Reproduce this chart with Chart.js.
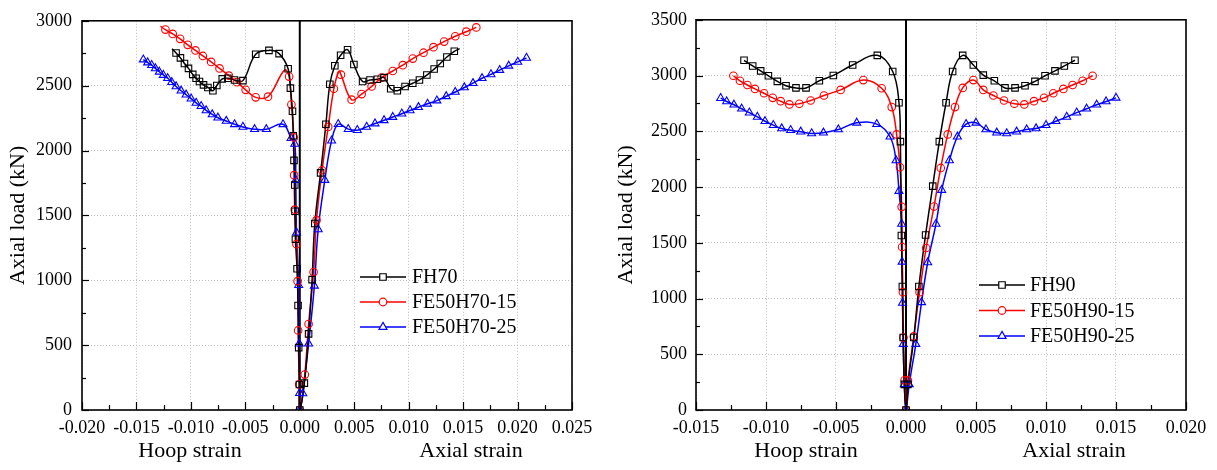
<!DOCTYPE html>
<html>
<head>
<meta charset="utf-8">
<title>Axial load – strain curves</title>
<script src="https://cdn.jsdelivr.net/npm/chart.js"></script>
<style>
  html, body { margin: 0; padding: 0; background: #fff; }
  #wrap { position: relative; width: 1217px; height: 470px; overflow: hidden; }
  .panel { position: absolute; top: 0; height: 470px; }
  #left { left: 0; width: 609px; }
  #right { left: 609px; width: 608px; }
</style>
</head>
<body>
<div id="wrap">
  <div class="panel" id="left"><canvas id="c1" width="609" height="470"></canvas></div>
  <div class="panel" id="right"><canvas id="c2" width="608" height="470"></canvas></div>
</div>
<script>
// ---- Axis ticks --------------------------------------------------------
const leftXTicks  = [-0.020, -0.015, -0.010, -0.005, 0, 0.005, 0.010, 0.015, 0.020, 0.025];
const leftYTicks  = [0, 500, 1000, 1500, 2000, 2500, 3000];
const rightXTicks = [-0.015, -0.010, -0.005, 0, 0.005, 0.010, 0.015, 0.020];
const rightYTicks = [0, 500, 1000, 1500, 2000, 2500, 3000, 3500];

// ---- Series labels ------------------------------------------------------
const leftLabels  = ['FH70', 'FE50H70-15', 'FE50H70-25'];
const rightLabels = ['FH90', 'FE50H90-15', 'FE50H90-25'];

// ---- Measured points [strain, load kN]: hoop branch (negative) then axial branch
const fh70 = [
  [-0.01136,2752],[-0.01096,2714],[-0.01059,2671],[-0.01022,2633],[-0.00983,2587],[-0.00952,2557],
  [-0.00921,2532],[-0.00884,2506],[-0.00844,2486],[-0.00798,2461],[-0.00762,2501],[-0.00712,2552],
  [-0.0066,2557],[-0.00599,2544],[-0.00522,2539],[-0.00405,2742],[-0.00283,2772],[-0.0019,2747],
  [-0.00107,2630],[-0.00086,2481],[-0.00067,2303],[-0.0006,2114],[-0.00053,1924],[-0.00046,1734],
  [-0.00044,1532],[-0.0004,1316],[-0.00025,1089],[-0.00016,805],[-0.0001,481],[-0.00003,197],[0,0],
  [0.00042,207],[0.00081,587],[0.00113,1005],[0.00138,1438],[0.00191,1828],[0.0024,2203],
  [0.00276,2511],[0.00322,2653],[0.00375,2734],[0.00439,2777],[0.00497,2663],[0.00577,2532],
  [0.00645,2544],[0.00712,2549],[0.00774,2562],[0.00835,2476],[0.00896,2461],[0.00967,2494],
  [0.01038,2519],[0.01099,2544],[0.01167,2582],[0.01234,2628],[0.0129,2671],[0.01351,2721],[0.01419,2765]
];
const fh70Bends = [[-0.01173,2785],[0.01468,2785]];

const fe50h70_15 = [
  [-0.01234,2932],[-0.01167,2899],[-0.01099,2861],[-0.01029,2815],[-0.00958,2772],[-0.0089,2729],
  [-0.00814,2683],[-0.00737,2633],[-0.00651,2577],[-0.00577,2527],[-0.00497,2468],[-0.00405,2410],
  [-0.00292,2415],[-0.00098,2570],[-0.00077,2354],[-0.00055,2101],[-0.00052,1810],[-0.00046,1544],
  [-0.0003,1278],[-0.0002,993],[-0.00015,613],[-0.00005,197],[0,0],
  [0.00046,273],[0.00081,663],[0.00127,1063],[0.00154,1463],[0.00205,1848],[0.00261,2182],
  [0.00313,2476],[0.00378,2585],[0.00476,2392],[0.00568,2435],[0.0066,2494],[0.00752,2562],
  [0.00854,2613],[0.00946,2658],[0.01038,2709],[0.01136,2754],[0.01228,2797],[0.01326,2840],
  [0.01428,2881],[0.01529,2916],[0.01621,2949]
];
const fe50h70_15Bends = [[-0.0128,2958],[-0.0014,2620],[0.0036,2612]];

const fe50h70_25 = [
  [-0.01437,2701],[-0.01397,2678],[-0.0136,2658],[-0.01326,2633],[-0.0129,2607],[-0.01253,2582],
  [-0.01213,2557],[-0.01176,2527],[-0.01136,2494],[-0.0109,2461],[-0.01044,2430],[-0.00998,2400],
  [-0.00952,2367],[-0.00906,2342],[-0.0086,2309],[-0.00804,2278],[-0.00752,2253],[-0.00675,2228],
  [-0.00599,2202],[-0.00522,2182],[-0.00415,2164],[-0.00307,2164],[-0.00154,2202],[-0.0008,2095],
  [-0.00046,2051],[-0.00037,1772],[-0.0003,1367],[-0.0001,962],[-0.00005,511],[-0.00002,130],[0,0],
  [0.00028,127],[0.00081,511],[0.00134,957],[0.00169,1392],[0.0023,1772],[0.00292,2076],
  [0.00353,2203],[0.00445,2165],[0.00528,2157],[0.00614,2182],[0.00691,2208],[0.00774,2233],
  [0.00854,2258],[0.00937,2284],[0.01013,2309],[0.0109,2334],[0.01173,2360],[0.01259,2385],
  [0.01345,2418],[0.01428,2451],[0.01511,2486],[0.01591,2519],[0.01674,2557],[0.01756,2587],
  [0.01836,2620],[0.01919,2653],[0.02002,2683],[0.02082,2714]
];

const fh90 = [
  [-0.01157,3137],[-0.01095,3086],[-0.01038,3042],[-0.00983,2998],[-0.00919,2948],[-0.00857,2909],
  [-0.00786,2889],[-0.00714,2889],[-0.00619,2953],[-0.00519,3001],[-0.00381,3095],[-0.00205,3181],
  [-0.00095,3036],[-0.0005,2756],[-0.0004,2407],[-0.00033,1565],[-0.00026,1108],[-0.0002,650],
  [-0.00012,230],[0,0],
  [0.00014,230],[0.00056,650],[0.00092,1108],[0.0014,1570],[0.00191,2008],[0.00238,2407],
  [0.00286,2756],[0.00333,3036],[0.00405,3181],[0.00481,3095],[0.00552,3004],[0.00631,2953],
  [0.00707,2889],[0.00779,2889],[0.0085,2909],[0.00921,2948],[0.00993,2998],[0.01064,3042],
  [0.01131,3086],[0.01207,3137]
];

const fe50h90_15 = [
  [-0.01233,2998],[-0.01186,2953],[-0.01133,2915],[-0.01079,2880],[-0.01014,2841],[-0.00952,2800],
  [-0.00895,2770],[-0.00833,2741],[-0.00762,2747],[-0.00681,2776],[-0.00586,2821],[-0.00467,2871],
  [-0.00305,2959],[-0.00174,2886],[-0.00102,2717],[-0.00067,2472],[-0.00043,2177],[-0.00031,1822],
  [-0.00028,1462],[-0.00022,1057],[-0.00018,650],[-0.0001,266],[0,0],
  [0.00014,265],[0.00056,660],[0.00097,1057],[0.00144,1453],[0.002,1825],[0.00248,2171],
  [0.00298,2472],[0.0035,2717],[0.00405,2889],[0.00481,2959],[0.00552,2871],[0.00624,2821],
  [0.007,2776],[0.00774,2747],[0.00845,2741],[0.00914,2770],[0.00986,2800],[0.01052,2841],
  [0.01124,2880],[0.0119,2915],[0.01262,2953],[0.01333,2998]
];

const fe50h90_25 = [
  [-0.01324,2797],[-0.01281,2767],[-0.01229,2738],[-0.01174,2702],[-0.01119,2667],[-0.01062,2629],
  [-0.01007,2590],[-0.00948,2555],[-0.00888,2525],[-0.00824,2510],[-0.00752,2496],[-0.00674,2481],
  [-0.0059,2487],[-0.00483,2516],[-0.00352,2576],[-0.00209,2564],[-0.00114,2451],[-0.00071,2239],
  [-0.0005,1964],[-0.00031,1669],[-0.00028,1329],[-0.00025,960],[-0.0002,591],[-0.00012,230],[0,0],
  [0.00023,230],[0.0007,591],[0.00111,966],[0.00155,1323],[0.00214,1669],[0.00255,1973],
  [0.0031,2239],[0.00367,2451],[0.00429,2564],[0.005,2576],[0.00571,2516],[0.00648,2487],
  [0.00719,2481],[0.0079,2496],[0.00862,2516],[0.00929,2525],[0.01,2555],[0.01071,2590],
  [0.01148,2629],[0.01219,2667],[0.0129,2702],[0.01362,2738],[0.01429,2767],[0.015,2800]
];

// ---- Rendering ------------------------------------------------------------
const SERIF = '"Liberation Serif", "Times New Roman", serif';
const STYLES = [
  { color: '#000000', marker: 'rect',     radius: 4.6 },
  { color: '#ff0000', marker: 'circle',   radius: 3.8 },
  { color: '#0000ff', marker: 'triangle', radius: 4.6 }
];

const toXY = arr => arr.map(p => ({ x: p[0], y: p[1] }));
// spline path runs through the measured points plus a few extra bend points
const pathOf = (pts, bends) => toXY(pts.concat(bends || []).sort((a, b) => a[0] - b[0]));

function drawMarker(ctx, kind, x, y, r) {
  ctx.beginPath();
  if (kind === 'rect') {
    const s = Math.SQRT1_2 * r;
    ctx.rect(x - s, y - s, 2 * s, 2 * s);
  } else if (kind === 'circle') {
    ctx.arc(x, y, r, 0, Math.PI * 2);
  } else {
    const h = r * 1.5, w = r * Math.sqrt(3) / 2;
    ctx.moveTo(x, y - r);
    ctx.lineTo(x + w, y + r / 2);
    ctx.lineTo(x - w, y + r / 2);
    ctx.closePath();
  }
  ctx.fill();
  ctx.stroke();
}

function decor(cfg) {
  return {
    id: 'decor',
    beforeDatasetsDraw(chart) {
      const { ctx, chartArea: a } = chart;
      const x0 = chart.scales.x.getPixelForValue(0);
      ctx.save();
      ctx.strokeStyle = '#000';
      ctx.lineWidth = 2;
      ctx.beginPath();
      ctx.moveTo(x0, a.top);
      ctx.lineTo(x0, a.bottom);
      ctx.stroke();
      ctx.restore();
    },
    afterDraw(chart) {
      const { ctx, chartArea: a } = chart;
      const xs = chart.scales.x, ys = chart.scales.y;
      ctx.save();
      // inward tick marks on bottom and left axes
      ctx.strokeStyle = '#000';
      ctx.lineWidth = 1.2;
      const seg = (x1, y1, x2, y2) => { ctx.beginPath(); ctx.moveTo(x1, y1); ctx.lineTo(x2, y2); ctx.stroke(); };
      cfg.xTicks.forEach((v, i) => {
        const px = Math.round(xs.getPixelForValue(v)) + 0.5;
        seg(px, a.bottom, px, a.bottom - 8);
        if (i < cfg.xTicks.length - 1) {
          const pm = Math.round(xs.getPixelForValue((v + cfg.xTicks[i + 1]) / 2)) + 0.5;
          seg(pm, a.bottom, pm, a.bottom - 5);
        }
      });
      cfg.yTicks.forEach((v, i) => {
        const py = Math.round(ys.getPixelForValue(v)) + 0.5;
        seg(a.left, py, a.left + 7, py);
        if (i < cfg.yTicks.length - 1) {
          const pm = Math.round(ys.getPixelForValue((v + cfg.yTicks[i + 1]) / 2)) + 0.5;
          seg(a.left, pm, a.left + 4, pm);
        }
      });
      // frame
      ctx.lineWidth = 1.6;
      ctx.strokeRect(a.left, a.top, a.right - a.left, a.bottom - a.top);

      // axis titles
      ctx.fillStyle = '#000';
      ctx.font = '22px ' + SERIF;
      ctx.textAlign = 'center';
      ctx.textBaseline = 'alphabetic';
      ctx.fillText('Hoop strain', a.left + cfg.hoopTitleDx, 457);
      ctx.fillText('Axial strain', a.left + cfg.axialTitleDx, 457);
      ctx.save();
      ctx.translate(cfg.yTitleX, (a.top + a.bottom) / 2);
      ctx.rotate(-Math.PI / 2);
      ctx.fillText('Axial load (kN)', 0, 0);
      ctx.restore();

      // legend
      ctx.font = '20px ' + SERIF;
      ctx.textAlign = 'left';
      ctx.textBaseline = 'middle';
      cfg.labels.forEach((label, i) => {
        const st = STYLES[i];
        const y = cfg.legend.y + i * cfg.legend.dy;
        ctx.strokeStyle = st.color;
        ctx.lineWidth = 1.5;
        seg(cfg.legend.x1, y, cfg.legend.x2, y);
        ctx.fillStyle = '#fff';
        ctx.lineWidth = 1.2;
        drawMarker(ctx, st.marker, (cfg.legend.x1 + cfg.legend.x2) / 2, y, st.radius);
        ctx.fillStyle = '#000';
        ctx.fillText(label, cfg.legend.tx, y + 1);
      });
      ctx.restore();
    }
  };
}

function buildChart(canvasId, cfg) {
  const datasets = [];
  cfg.series.forEach((s, i) => {
    const st = STYLES[i];
    datasets.push({
      data: toXY(s.points),
      showLine: false,
      pointStyle: st.marker,
      pointRadius: st.radius,
      pointHoverRadius: st.radius,
      pointBorderColor: st.color,
      pointBackgroundColor: 'rgba(0,0,0,0)',
      pointBorderWidth: 1.1,
      order: 1
    });
    datasets.push({
      data: pathOf(s.points, s.bends),
      showLine: true,
      borderColor: st.color,
      borderWidth: 1.5,
      tension: 0.4,
      pointRadius: 0,
      pointHoverRadius: 0,
      fill: false,
      order: 2
    });
  });

  const tickFont = { family: SERIF, size: 18 };
  return new Chart(document.getElementById(canvasId), {
    type: 'scatter',
    data: { datasets },
    options: {
      responsive: false,
      animation: false,
      events: [],
      layout: { padding: { left: 0, right: cfg.padRight, top: 15, bottom: 0 } },
      plugins: { legend: { display: false }, tooltip: { enabled: false } },
      scales: {
        x: {
          type: 'linear',
          min: cfg.xTicks[0],
          max: cfg.xTicks[cfg.xTicks.length - 1],
          afterBuildTicks: sc => { sc.ticks = cfg.xTicks.map(v => ({ value: v })); },
          afterFit: sc => { sc.height = 60; },
          ticks: {
            autoSkip: false, maxRotation: 0, padding: 7, color: '#000', font: tickFont,
            callback: v => (Math.abs(v) < 1e-12 ? 0 : v).toFixed(3)
          },
          grid: { color: '#bdbdbd', lineWidth: 1, drawTicks: false },
          border: { display: false, dash: [1, 2] }
        },
        y: {
          type: 'linear',
          min: cfg.yTicks[0],
          max: cfg.yTicks[cfg.yTicks.length - 1],
          afterBuildTicks: sc => { sc.ticks = cfg.yTicks.map(v => ({ value: v })); },
          afterFit: sc => { sc.width = cfg.yAxisWidth; },
          ticks: {
            autoSkip: false, padding: cfg.yTickPad, color: '#000', font: tickFont,
            callback: v => String(v)
          },
          grid: { color: '#bdbdbd', lineWidth: 1, drawTicks: false },
          border: { display: false, dash: [1, 2] }
        }
      }
    },
    plugins: [decor(cfg)]
  });
}

buildChart('c1', {
  xTicks: leftXTicks, yTicks: leftYTicks, labels: leftLabels,
  series: [
    { points: fh70, bends: fh70Bends },
    { points: fe50h70_15, bends: fe50h70_15Bends },
    { points: fe50h70_25 }
  ],
  yAxisWidth: 82, padRight: 37, yTickPad: 10, yTitleX: 23.5,
  hoopTitleDx: 108, axialTitleDx: 389,
  legend: { x1: 360, x2: 406, tx: 412, y: 277, dy: 25 }
});

buildChart('c2', {
  xTicks: rightXTicks, yTicks: rightYTicks, labels: rightLabels,
  series: [
    { points: fh90 },
    { points: fe50h90_15 },
    { points: fe50h90_25 }
  ],
  yAxisWidth: 87, padRight: 31, yTickPad: 9, yTitleX: 23,
  hoopTitleDx: 110, axialTitleDx: 378,
  legend: { x1: 370, x2: 416, tx: 421, y: 285, dy: 25.5 }
});
</script>
</body>
</html>
